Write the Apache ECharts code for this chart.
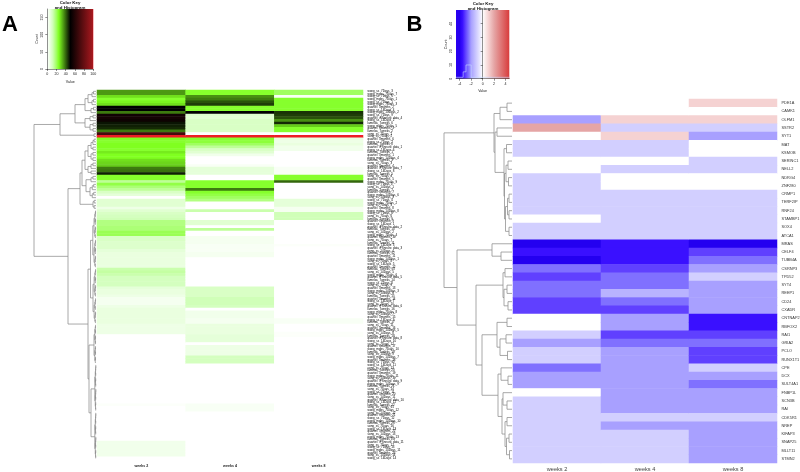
<!DOCTYPE html>
<html>
<head>
<meta charset="utf-8">
<style>html,body{margin:0;padding:0;background:#fff}#c{width:800px;height:472px}</style>
<script src="https://cdn.jsdelivr.net/npm/echarts@6/dist/echarts.min.js"></script>
</head>
<body>
<div id="c"></div>
<script>
const columns = ['weeks 2', 'weeks 4', 'weeks 8'];

const rowsA = [
'wang_ss_7Days_3','wang_mgbs_7Days_7','wang_ss_7Days_5','wang_mgbs_7Days_1','wang_ss_7Days_1','wang_mgbs_7Days_3','quartiel_3months_2','wang_ss_14Days_4','wang_mgbs_14Days_2','wang_ss_7Days_9',
'quartiel_iPSneuro_data_4','wang_ss_14Days_2','lamelas_7weeks_6','wang_mgbs_7Days_5','quartiel_3months_3','lamelas_7weeks_2','song_ss_7Days_1','song_ss_7Days_2','quartiel_3months_6','wang_ss_7Days_7',
'lamelas_7weeks_8','quartiel_iPSneuro_data_1','wang_ss_14Days_6','lamelas_7weeks_1','quartiel_3months_1','wang_mgbs_14Days_4','lamelas_7weeks_3','song_ss_7Days_3','quartiel_3months_4','quartiel_iPSneuro_data_7',
'wang_ss_14Days_8','lamelas_7weeks_5','song_ss_7Days_4','quartiel_3months_5','wang_mgbs_7Days_9','wang_ss_7Days_2','song_ss_14Days_1','lamelas_7weeks_7','quartiel_3months_7','wang_mgbs_14Days_6',
'song_ss_14Days_3','wang_ss_7Days_4','wang_mgbs_7Days_2','song_ss_7Days_5','quartiel_3months_8','wang_mgbs_14Days_8','wang_ss_7Days_6','song_ss_7Days_6','lamelas_7weeks_9','quartiel_3months_9',
'wang_ss_14Days_1','quartiel_iPSneuro_data_2','lamelas_7weeks_10','song_ss_14Days_2','wang_mgbs_7Days_4','quartiel_3months_10','song_ss_7Days_7','lamelas_7weeks_11','wang_ss_14Days_3','quartiel_iPSneuro_data_3',
'song_ss_14Days_4','lamelas_7weeks_12','quartiel_3months_11','wang_mgbs_14Days_1','song_ss_7Days_8','wang_ss_14Days_5','quartiel_3months_12','lamelas_7weeks_13','song_ss_14Days_5','wang_mgbs_7Days_6',
'quartiel_iPSneuro_data_5','lamelas_7weeks_14','wang_ss_7Days_8','song_ss_7Days_9','quartiel_3months_13','wang_mgbs_14Days_3','song_ss_14Days_6','lamelas_7weeks_15','quartiel_3months_14','wang_ss_14Days_7',
'song_ss_7Days_10','quartiel_iPSneuro_data_6','lamelas_7weeks_16','wang_mgbs_7Days_8','song_ss_14Days_7','quartiel_3months_15','wang_ss_14Days_9','lamelas_7weeks_17','song_ss_7Days_11','quartiel_3months_16',
'wang_mgbs_14Days_5','song_ss_14Days_8','lamelas_7weeks_18','quartiel_iPSneuro_data_8','wang_ss_14Days_10','song_ss_7Days_12','quartiel_3months_17','wang_mgbs_7Days_10','lamelas_7weeks_19','song_ss_14Days_9',
'wang_mgbs_14Days_7','quartiel_3months_18','wang_ss_7Days_10','wang_ss_14Days_11','song_ss_7Days_13','lamelas_7weeks_20','quartiel_3months_19','wang_mgbs_7Days_11','song_ss_14Days_10','quartiel_iPSneuro_data_9',
'wang_mgbs_14Days_9','lamelas_7weeks_21','song_ss_7Days_14','wang_ss_7Days_11','quartiel_3months_20','song_ss_14Days_11','quartiel_iPSneuro_data_10','wang_ss_14Days_12','lamelas_7weeks_22','song_ss_7Days_15',
'wang_mgbs_7Days_12','song_ss_14Days_12','quartiel_3months_21','wang_ss_7Days_12','wang_mgbs_14Days_10','lamelas_7weeks_23','song_ss_7Days_16','wang_ss_14Days_13','quartiel_3months_22','song_ss_14Days_13',
'wang_mgbs_7Days_13','lamelas_7weeks_24','quartiel_iPSneuro_data_11','song_ss_7Days_17','wang_ss_7Days_13','wang_mgbs_14Days_11','quartiel_3months_23','song_ss_14Days_14','wang_ss_14Days_14'
];
const weeks2A = [
35,35,28,24,26,28,50,50,38,55,56,54,48,47,46,38,70,100,
25,24,25,25,24,27,25,25,28,29,30,38,39,47,24,24,15,22,18,15,10,7,0,8,8,8,5,
8,10,11,12,17,17,18,18,21,21,10,10,9,9,9,7,6,6,6,6,6,6,13,14,13,11,11,11,11,7,6,6,5,3,3,3,5,6,6,6,6,6,6,5,5,5,5,
0,0,0,0,0,0,0,0,0,0,0,0,0,0,0,0,0,0,0,0,0,0,0,0,0,0,1,
0,0,0,0,0,0,0,0,0,0,0,0,0,4,4,4,4,4,4,0
];
const weeks4A = [
24,24,36,38,42,44,24,24,50,9,8,10,10,10,10,10,0,100,
24,23,20,15,10,8,4,0,0,0,2,7,7,7,0,0,24,24,24,38,24,22,20,17,0,0,0,
13,0,0,0,8,8,0,15,0,0,3,3,3,2,2,2,3,3,0,0,0,0,0,0,0,0,0,0,0,10,10,10,10,12,12,12,11,0,4,4,4,3,3,6,6,6,6,
7,7,7,0,5,5,5,5,11,11,11,0,0,0,0,0,0,0,0,0,0,0,0,0,0,0,2,2,2,
0,0,0,0,0,0,0,0,0,0,0,0,0,0,0,0,0,0
];
const weeks8A = [
20,20,2,24,24,24,24,24,45,44,42,36,46,30,24,24,0,100,
6,5,6,4,4,0,0,0,0,0,0,2,2,2,24,24,40,0,0,0,0,0,0,7,7,7,3,
3,12,12,12,0,0,0,0,0,0,0,0,0,1,0,0,0,0,0,0,0,0,0,0,0,0,0,0,0,0,0,0,0,0,0,0,0,0,0,0,0,2,2,0,0,0,1,
1,0,0,0,0,0,0,0,0,0,0,0,0,0,0,0,0,0,0,0,0,0,0,0,0,0,0,
0,0,0,0,0,0,0,0,0,0,0,0,0,0,0,0,0,0,0
];

const rowsB = ['PDE1A','CAMK1','OLFM1','SSTR2','SYT1','MAT','KSMOB','SERINC1','NELL2','NDRG4','ZNF280','CRMP1','TERF2IP','RNF24','STAMBP1','SOX4','ATCA1','MRAS','CELF4','TUBB4A','CSRNP3','TPD52','SYT4','REEP1','CD24','CXADR','CNTNAP2','RBFOX2','RAI1','GRIA2','PCLO','RUNX1T1','CPE','DCX','SULT4A1','FNBP1L','SCN3B','RAI','CDK5R1','NREP','KIFAP3','SNAP25','MLLT11','STMN2'];
const weeks2B = [0,0,-2,2,0,-1,-1,0,0,-1,-1,-1,-1,-1,0,-1,-1,-4,-3.5,-4,-2.5,-3,-2.5,-2.5,-3,-3,0,0,-1,-2,-1,-1,-2.5,-2,-2,0,-1,-1,-1,-1,-1,-1,-1,-1];
const weeks4B = [0,0,1,-1,1,-1,-1,0,-1,0,0,-1,-1,-1,-1,-1,-1,-3.5,-3.5,-3.5,-3,-2.5,-2.5,-1.6,-2.5,-3,-2,-2,-3,-2.5,-2,-2,-2,-2,-2,-2,-2,-2,-1,-2,-1,-1,-1,-1];
const weeks8B = [1,0,1,-1,-2,0,0,-1,-1,0,0,-1,-1,-1,-1,-1,-1,-4,-3,-2.5,-2,-1,-2,-2,-2,-2,-3.5,-3.5,-3,-2.5,-3,-3,-1,-2,-2.5,-2,-2,-2,-1,-2,-2,-2,-2,-2];

const rampA = [[0,'#ffffff'],[5,'#eeffe6'],[12,'#d0ffb8'],[20,'#a0ff60'],[25,'#80ff20'],[50,'#000000'],[99,'#a8181e'],[100,'#ee1c25']];
const rampB = [[-4.65,'#2a00f0'],[-4,'#2400f0'],[-3.5,'#3a10ff'],[-3,'#6040ff'],[-2.5,'#8070ff'],[-2,'#a8a0ff'],[-1,'#d2cfff'],[0,'#ffffff'],[1,'#f5d2d2'],[2,'#e5a5a5'],[4.65,'#d83c3c']];

const keyATicksX = [0,20,40,60,80,100];
const keyATicksY = [0,50,100,150];
const keyBTicksX = [-4,-2,0,2,4];
const keyBTicksY = [0,10,20,30,40];
const histBx = [-4.65,-3.4,-3.4,-2.9,-2.9,-2,-2,4.65];
const histBy = [1,1,5,5,10,10,1,1];

function span(a,b,h){ if(a===b) return a; const m=Math.floor((a+b)/2); return [h,span(a,m,h*.62),span(m+1,b,h*.62)]; }
const treeA = [62,
  [36,
    [21,
      [11,[8,span(0,2,4),span(3,5,4)],[5,span(6,7,2.5),8]],
      [11,[6,span(9,10,3),11],[6,span(12,13,3),span(14,15,3)]]],
    [2,16,17]],
  [28,
    [16,
      [14,[11,span(18,26,8),span(27,31,8)],[10,span(32,34,5),span(35,40,6)]],
      span(41,44,3)],
    [8,
      [5.5,span(45,66,3.2),span(67,87,3)],
      [7,span(88,102,2),[5,span(103,120,1.2),span(121,138,1.2)]]]]];
const treeB = [68,
  [18,
    [12,[5,0,1],2],
    [17,[15,3,4],
      [8,[5.5,5,6],[7.5,[6,[4,7,8],[3.5,9,10]],[6.5,[4.5,[3,11,12],[3,13,14]],[3,15,16]]]]]],
  [55,
    [20,17,[11,18,19]],
    [36,
      [9,[7,20,21],[8,[5,22,23],[4,24,25]]],
      [30,
        [15,[5,26,27],[12,[6,28,29],[4.5,30,31]]],
        [14,
          [11,32,[4,33,34]],
          [10,[9,35,[5,36,37]],[7,[5,38,39],[5.5,[3,40,41],[2.5,42,43]]]]]]]]];

function hex(c){return [parseInt(c.slice(1,3),16),parseInt(c.slice(3,5),16),parseInt(c.slice(5,7),16)];}
function ramp(v,stops){
  if(v<=stops[0][0]) return stops[0][1];
  for(let i=1;i<stops.length;i++){ if(v<=stops[i][0]){
    const t=(v-stops[i-1][0])/(stops[i][0]-stops[i-1][0]),a=hex(stops[i-1][1]),b=hex(stops[i][1]);
    return 'rgb('+a.map((x,k)=>Math.round(x+(b[k]-x)*t)).join(',')+')'; } }
  return stops[stops.length-1][1];
}
function cells(cols,stops){
  const out=[];
  cols.forEach((arr,c)=>arr.forEach((v,r)=>out.push({value:[c,r,v],itemStyle:{color:ramp(v,stops)}})));
  return out;
}
function segments(tree){
  const segs=[];
  (function walk(n){
    if(typeof n==='number') return {y:n,h:0};
    const l=walk(n[1]),r=walk(n[2]);
    segs.push([n[0],l.h,l.y,r.h,r.y]);
    return {y:(l.y+r.y)/2,h:n[0]};
  })(tree);
  return segs;
}
function renderSeg(params,api){
  const p=[api.coord([api.value(1),api.value(2)]),api.coord([api.value(0),api.value(2)]),api.coord([api.value(0),api.value(4)]),api.coord([api.value(3),api.value(4)])];
  return {type:'polyline',shape:{points:p},style:{stroke:'#8c8c8c',lineWidth:.75,fill:null}};
}
function gradient(stops,min,max){
  return new echarts.graphic.LinearGradient(0,0,1,0,stops.map(s=>({offset:Math.min(1,Math.max(0,(s[0]-min)/(max-min))),color:s[1]})));
}
const F='"Liberation Sans",Arial,sans-serif';
function keyX(grid,min,max,ticks,gap){
  return {type:'value',gridIndex:grid,min,max,name:'Value',nameLocation:'middle',nameGap:gap,
    nameTextStyle:{fontSize:3.6,fontFamily:F,color:'#222'},splitLine:{show:false},
    axisLine:{show:true,onZero:false,lineStyle:{color:'#222',width:.5}},
    axisTick:{show:true,length:2,lineStyle:{color:'#222',width:.5},customValues:ticks},
    axisLabel:{fontSize:3.6,fontFamily:F,color:'#222',margin:3,customValues:ticks,hideOverlap:false}};
}
function keyY(grid,max,ticks){
  return {type:'value',gridIndex:grid,min:0,max,name:'Count',nameLocation:'middle',nameGap:8,nameRotate:90,
    nameTextStyle:{fontSize:3.6,fontFamily:F,color:'#222'},splitLine:{show:false},
    axisLine:{show:true,lineStyle:{color:'#222',width:.5}},
    axisTick:{show:true,length:2,lineStyle:{color:'#222',width:.5},customValues:ticks},
    axisLabel:{fontSize:3.6,fontFamily:F,color:'#222',margin:3,rotate:90,customValues:ticks,hideOverlap:false}};
}
function hmX(grid,font,margin,col,weight){
  return {type:'category',gridIndex:grid,data:columns,axisLine:{show:false},axisTick:{show:false},splitLine:{show:false},
    axisLabel:{fontSize:font,fontFamily:F,margin,color:col,fontWeight:weight}};
}
function hmY(grid,rows,font,margin,col){
  return {type:'category',gridIndex:grid,data:rows,inverse:true,position:'right',axisLine:{show:false},axisTick:{show:false},splitLine:{show:false},
    axisLabel:{interval:0,fontSize:font,fontFamily:F,margin,color:col,hideOverlap:false}};
}
function dX(grid,max){return {type:'value',gridIndex:grid,min:0,max,inverse:true,show:false};}
function dY(grid,n){return {type:'value',gridIndex:grid,min:-.5,max:n-.5,inverse:true,show:false};}

const chart=echarts.init(document.getElementById('c'),null,{renderer:'canvas'});
const G={outerBoundsMode:'none',containLabel:false};
chart.setOption({
  animation:false,
  backgroundColor:'#fff',
  title:[
    {text:'A',left:2,top:14,padding:0,textStyle:{fontSize:22,fontWeight:'bold',fontFamily:F,color:'#000'}},
    {text:'B',left:406.5,top:14,padding:0,textStyle:{fontSize:22,fontWeight:'bold',fontFamily:F,color:'#000'}},
    {text:'Color Key\nand Histogram',left:70,top:0.5,padding:0,textAlign:'center',textStyle:{fontSize:4.4,lineHeight:5,fontWeight:'bold',fontFamily:F,color:'#111'}},
    {text:'Color Key\nand Histogram',left:483,top:1.5,padding:0,textAlign:'center',textStyle:{fontSize:4.4,lineHeight:5,fontWeight:'bold',fontFamily:F,color:'#111'}}
  ],
  grid:[
    Object.assign({left:97,top:90,width:266,height:369.5},G),
    Object.assign({left:34,top:90,width:62,height:369.5},G),
    Object.assign({left:47.3,top:9,width:46,height:60,show:true,borderWidth:0,backgroundColor:gradient(rampA,0,100)},G),
    Object.assign({left:513,top:99,width:264,height:364},G),
    Object.assign({left:444,top:99,width:68,height:364},G),
    Object.assign({left:456,top:10,width:53.3,height:68.7,show:true,borderWidth:0,backgroundColor:gradient(rampB,-4.65,4.65)},G)
  ],
  xAxis:[hmX(0,3.6,4.5,'#222','bold'),dX(1,62),keyX(2,0,100,keyATicksX,11),hmX(3,5.6,3,'#444','normal'),dX(4,68),keyX(5,-4.65,4.65,keyBTicksX,10.5)],
  yAxis:[hmY(0,rowsA,3,4.5,'#000'),dY(1,rowsA.length),keyY(2,175,keyATicksY),hmY(3,rowsB,3.9,4.5,'#333'),dY(4,rowsB.length),keyY(5,50,keyBTicksY)],
  series:[
    {type:'heatmap',xAxisIndex:0,yAxisIndex:0,data:cells([weeks2A,weeks4A,weeks8A],rampA),silent:true,progressive:0},
    {type:'custom',xAxisIndex:1,yAxisIndex:1,data:segments(treeA),renderItem:renderSeg,silent:true,clip:false},
    {type:'heatmap',xAxisIndex:3,yAxisIndex:3,data:cells([weeks2B,weeks4B,weeks8B],rampB),silent:true,progressive:0},
    {type:'custom',xAxisIndex:4,yAxisIndex:4,data:segments(treeB),renderItem:renderSeg,silent:true,clip:false},
    {type:'line',xAxisIndex:5,yAxisIndex:5,data:histBx.map((x,i)=>[x,histBy[i]]),symbol:'none',silent:true,lineStyle:{color:'#c8dcff',width:.6}}
  ]
});
</script>
</body>
</html>
